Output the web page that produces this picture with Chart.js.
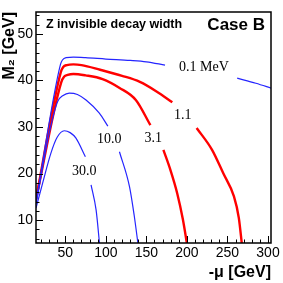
<!DOCTYPE html>
<html>
<head>
<meta charset="utf-8">
<script src="https://cdn.jsdelivr.net/npm/chart.js@4.4.0/dist/chart.umd.min.js"></script>
<style>
  html, body { margin: 0; padding: 0; background: #fff; }
  canvas { display: block; }
</style>
</head>
<body>
<canvas id="chart" width="283" height="283"></canvas>
<script>
// contours of the Z invisible decay width, -mu vs M2 (GeV)
const mu01  = [13.9, 44, 46.5, 51, 60, 75, 100, 130, 150, 173, 220, 262, 285, 305];
const m2_01 = [14.0, 43.4, 44.4, 44.9, 45.0, 44.9, 44.6, 44.3, 44.0, 43.3, null, 40.5, 39.4, 38.3];

const mu11  = [13.9, 44.5, 47.5, 52, 60, 70, 93, 120, 142, 163, 182, 197, 212, 231, 245, 258, 264, 268];
const m2_11 = [14.5, 41.8, 42.9, 43.3, 43.45, 43.3, 42.3, 41.0, 39.7, 37.6, 35.3, null, 29.8, 25.1, 20.0, 15.1, 10.5, 4.5];

const mu31  = [13.9, 45, 48.5, 53, 60, 75, 96, 117, 137, 155, 163, 171, 180, 188, 195, 200.5];
const m2_31 = [14.5, 39.6, 40.8, 41.2, 41.4, 41.1, 40.3, 38.4, 35.8, 30.4, null, 25.1, 20.6, 15.8, 10.2, 4.5];

const mu10  = [13.9, 30.2, 40.6, 46.8, 55, 65, 75.6, 92, 102.5, 110, 116.8, 129.2, 135, 140];
const m2_10 = [13.4, 28.7, 35.5, 36.7, 37.3, 37.0, 35.8, 33.0, 30.2, null, 24.7, 17.2, 11.0, 4.5];

const mu30  = [13.9, 22, 32.3, 40, 48.8, 56, 63.2, 74.8, 78, 81.8, 88, 92.5];
const m2_30 = [12.6, 17.9, 24.4, 27.8, 29.2, 28.8, 27.6, 23.6, null, 17.6, 12.2, 4.5];

const curveNames = ['0.1 MeV', '1.1', '3.1', '10.0', '30.0'];
const labelMu = [221, 195, 158.5, 104.3, 73.4];
const labelM2 = [42.9, 32.6, 27.6, 27.4, 20.4];

const xTicks = [50, 100, 150, 200, 250, 300];
const yTicks = [10, 20, 30, 40, 50];

const BLUE = '#2525ff';
const RED = '#ff0000';
const SANS = '"Liberation Sans", Arial, sans-serif';

const pts = (xs, ys) => xs.map((x, i) => ({ x: x, y: ys[i] }));

const curve = (xs, ys, color, width) => ({
    data: pts(xs, ys),
    borderColor: color,
    borderWidth: width,
    pointRadius: 0,
    fill: false,
    spanGaps: false,
    cubicInterpolationMode: 'monotone'
});

// inside tick marks, frame and the texts drawn over the plot
const decorations = {
    id: 'decorations',
    afterDatasetsDraw(chart) {
        const { ctx, chartArea: a, scales: { x, y } } = chart;
        ctx.save();
        ctx.strokeStyle = '#000';
        ctx.lineWidth = 1;
        ctx.beginPath();
        for (let v = 20; v <= 300; v += 10) {
            const px = Math.round(x.getPixelForValue(v)) + 0.5;
            const len = v % 50 === 0 ? 7 : 3.5;
            ctx.moveTo(px, a.bottom);
            ctx.lineTo(px, a.bottom - len);
        }
        for (let v = 6; v <= 54; v += 2) {
            const py = Math.round(y.getPixelForValue(v)) + 0.5;
            const len = v % 10 === 0 ? 7 : 3.5;
            ctx.moveTo(a.left, py);
            ctx.lineTo(a.left + len, py);
        }
        ctx.stroke();

        ctx.lineWidth = 1.5;
        ctx.strokeRect(a.left, a.top, a.right - a.left, a.bottom - a.top);

        ctx.fillStyle = '#000';
        ctx.textBaseline = 'middle';
        ctx.textAlign = 'center';
        ctx.font = '14px "Liberation Serif", "Times New Roman", serif';
        curveNames.forEach((name, i) => {
            ctx.fillText(name, x.getPixelForValue(labelMu[i]), y.getPixelForValue(labelM2[i]));
        });

        ctx.textAlign = 'left';
        ctx.font = 'bold 12.5px ' + SANS;
        ctx.fillText('Z invisible decay width', a.left + 10, a.top + 13);
        ctx.textAlign = 'right';
        ctx.font = 'bold 17px ' + SANS;
        ctx.fillText('Case B', a.right - 6, a.top + 13);
        ctx.restore();
    }
};

new Chart(document.getElementById('chart'), {
    type: 'line',
    data: {
        datasets: [
            curve(mu01, m2_01, BLUE, 1.2),
            curve(mu30, m2_30, BLUE, 1.2),
            curve(mu10, m2_10, BLUE, 1.2),
            curve(mu31, m2_31, RED, 2.4),
            curve(mu11, m2_11, RED, 2.4)
        ]
    },
    options: {
        responsive: false,
        animation: false,
        devicePixelRatio: 1,
        layout: { padding: { top: 12, right: 12, left: 0, bottom: 0 } },
        plugins: { legend: { display: false }, tooltip: { enabled: false } },
        scales: {
            x: {
                type: 'linear',
                min: 13.9,
                max: 303.7,
                afterFit: s => { s.height = 40; },
                grid: { display: false, drawTicks: false },
                border: { display: false },
                ticks: {
                    stepSize: 50,
                    includeBounds: false,
                    autoSkip: false,
                    maxRotation: 0,
                    padding: 2,
                    color: '#000',
                    font: { family: SANS, size: 14 },
                    callback: v => xTicks.includes(v) ? String(v) : ''
                },
                title: {
                    display: true,
                    text: '-μ [GeV]',
                    align: 'end',
                    color: '#000',
                    padding: { top: 0, bottom: 1 },
                    font: { family: SANS, size: 16, weight: 'bold' }
                }
            },
            y: {
                type: 'linear',
                min: 5.1,
                max: 54.7,
                afterFit: s => { s.width = 36; },
                grid: { display: false, drawTicks: false },
                border: { display: false },
                ticks: {
                    stepSize: 10,
                    includeBounds: false,
                    autoSkip: false,
                    padding: 3,
                    color: '#000',
                    font: { family: SANS, size: 14 },
                    callback: v => yTicks.includes(v) ? String(v) : ''
                },
                title: {
                    display: true,
                    text: 'M₂ [GeV]',
                    align: 'end',
                    color: '#000',
                    padding: 0,
                    font: { family: SANS, size: 16, weight: 'bold' }
                }
            }
        }
    },
    plugins: [decorations]
});
</script>
</body>
</html>
